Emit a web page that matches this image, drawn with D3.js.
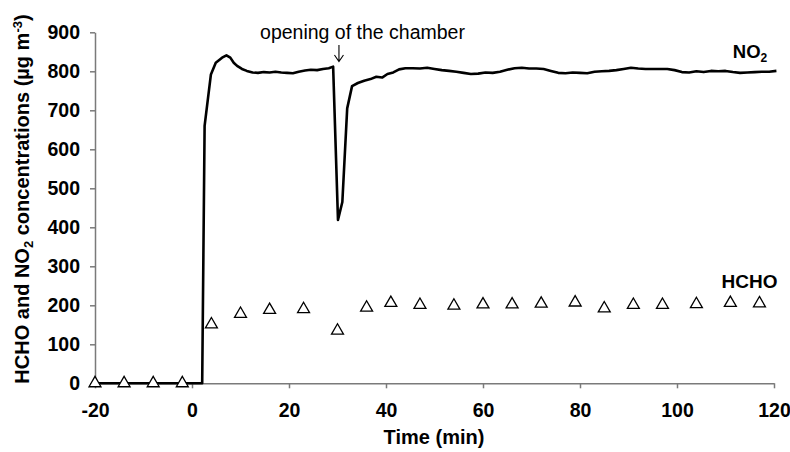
<!DOCTYPE html>
<html>
<head>
<meta charset="utf-8">
<script src="https://cdn.jsdelivr.net/npm/d3@7"></script>
<style>
  html, body { margin: 0; padding: 0; background: #fff; }
  svg { display: block; }
  text { font-family: "Liberation Sans", Arial, sans-serif; fill: #000; }
</style>
</head>
<body>
<svg id="chart" width="790" height="452"></svg>
<script>
// ---- data ----
const no2Time = [-20, 2.1, 2.6, 3.9, 4.9, 6.2, 7.1, 7.9, 8.6, 9.3, 10.3, 11.3, 12.5, 13.6, 14.8, 16, 17.2, 18.4, 19.6, 20.8, 22, 23.3, 24.5, 25.8, 27, 28.2, 29.1, 30.1, 31.0, 32.0, 33.0, 34.2, 35.5, 36.8, 38, 39.2, 40.3, 41.5, 42.7, 44, 45.5, 47, 48.5, 50, 51.5, 53, 54.5, 56, 57.5, 59, 60.5, 62, 63.5, 65, 66.5, 68, 69.5, 71, 72.5, 74, 75.5, 77, 78.5, 80, 81.5, 83, 84.5, 86, 87.5, 89, 90.5, 92, 93.5, 95, 96.5, 98, 99.5, 101, 102.5, 104, 105.5, 107, 108.5, 110, 111.5, 113, 114.5, 116, 117.5, 119, 120.5];
const no2Value = [0, 0, 660, 792, 822, 835, 841, 835, 822, 814, 806, 801, 797, 796, 798, 797, 799, 797, 796, 795, 799, 802, 804, 803, 806, 808, 812, 419, 465, 705, 762, 770, 776, 780, 786, 784, 793, 797, 805, 808, 808, 807, 809, 806, 803, 801, 799, 796, 793, 794, 797, 796, 799, 804, 808, 809, 807, 807, 806, 801, 796, 795, 797, 796, 795, 799, 800, 801, 803, 806, 809, 807, 806, 806, 806, 806, 803, 798, 797, 800, 798, 801, 800, 801, 798, 796, 797, 798, 799, 799, 801];
const hchoTime = [-20, -14, -8, -2, 4, 10, 16, 23, 30, 36, 41, 47, 54, 60, 66, 72, 79, 85, 91, 97, 104, 111, 117];
const hchoValue = [0, 0, 0, 0, 151, 178, 188, 190, 135, 194, 206, 201, 199, 202, 202, 204, 207, 192, 201, 201, 203, 206, 205];
const xTicks = [-20, 0, 20, 40, 60, 80, 100, 120];
const yTicks = [0, 100, 200, 300, 400, 500, 600, 700, 800, 900];

// ---- chart ----
const svg = d3.select("#chart");
const x = d3.scaleLinear().domain([-20, 120]).range([95, 774]);
const y = d3.scaleLinear().domain([0, 900]).range([383.3, 32.3]);
const axisColor = "#7a7a7a";

// y axis
const yAxis = svg.append("g").attr("transform", `translate(${x(-20)},0)`)
  .call(d3.axisLeft(y).tickValues(yTicks).tickFormat(d => String(d))
    .tickSize(5).tickSizeOuter(0).tickPadding(10));
// x axis
const xAxis = svg.append("g").attr("transform", `translate(0,${y(0)})`)
  .call(d3.axisBottom(x).tickValues(xTicks).tickFormat(d => String(d))
    .tickSize(5).tickSizeOuter(0).tickPadding(15));
[yAxis, xAxis].forEach(a => {
  a.select(".domain").attr("stroke", axisColor).attr("stroke-width", 1.5);
  a.selectAll(".tick line").attr("stroke", axisColor).attr("stroke-width", 1.5);
  a.selectAll(".tick text").attr("font-size", 19.5).attr("font-weight", "bold")
    .attr("font-family", "Liberation Sans, Arial, sans-serif").attr("fill", "#000");
});
xAxis.selectAll(".tick text").attr("dy", "0.71em");

// NO2 line
const no2 = no2Time.map((t, i) => [t, no2Value[i]]);
svg.append("path").datum(no2)
  .attr("fill", "none").attr("stroke", "#000").attr("stroke-width", 2.6)
  .attr("stroke-linejoin", "round")
  .attr("d", d3.line().x(d => x(d[0])).y(d => y(d[1])));

// HCHO triangles
const hcho = hchoTime.map((t, i) => [t, hchoValue[i]]);
svg.append("g").selectAll("path").data(hcho).join("path")
  .attr("transform", d => `translate(${x(d[0])},${y(d[1])})`)
  .attr("d", d3.symbol(d3.symbolTriangle, 62))
  .attr("fill", "#fff").attr("stroke", "#000").attr("stroke-width", 1.3);

// series labels
const no2Label = svg.append("text").attr("x", x(111.5)).attr("y", y(833))
  .attr("font-size", 18.5).attr("font-weight", "bold");
no2Label.append("tspan").text("NO");
no2Label.append("tspan").text("2").attr("font-size", 12).attr("dy", 4);

svg.append("text").attr("x", x(109.2)).attr("y", y(245))
  .attr("font-size", 19).attr("font-weight", "bold").text("HCHO");

// annotation
svg.append("text").attr("x", 362.5).attr("y", 39).attr("text-anchor", "middle")
  .attr("font-size", 19.5).text("opening of the chamber");
const ax = x(30.3);
svg.append("path")
  .attr("d", `M${ax},45 L${ax},61.5 M${ax - 4.5},55 L${ax},61.5 L${ax + 4.5},55`)
  .attr("fill", "none").attr("stroke", "#000").attr("stroke-width", 1.1);

// axis titles
svg.append("text").attr("x", 434).attr("y", 444).attr("text-anchor", "middle")
  .attr("font-size", 20).attr("font-weight", "bold").text("Time (min)");

const yt = svg.append("text")
  .attr("transform", `translate(29,199) rotate(-90)`)
  .attr("text-anchor", "middle").attr("font-size", 20).attr("font-weight", "bold");
yt.append("tspan").text("HCHO and NO");
yt.append("tspan").text("2").attr("font-size", 13).attr("dy", 4);
yt.append("tspan").text(" concentrations (µg m").attr("font-size", 20).attr("dy", -4);
yt.append("tspan").text("-3").attr("font-size", 13).attr("dy", -7);
yt.append("tspan").text(")").attr("font-size", 20).attr("dy", 7);
</script>
</body>
</html>
